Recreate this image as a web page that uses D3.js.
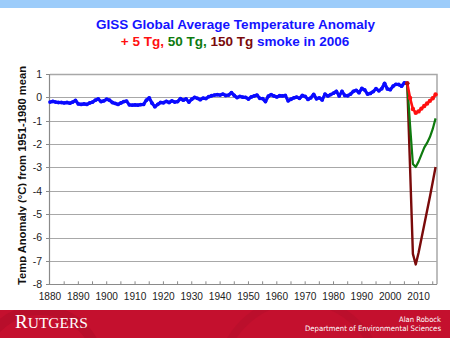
<!DOCTYPE html>
<html>
<head>
<meta charset="utf-8">
<script src="https://cdn.jsdelivr.net/npm/d3@7"></script>
<style>
  html, body { margin: 0; padding: 0; background: #fff; }
  svg { display: block; font-family: Arial, "Liberation Sans", sans-serif; }
</style>
</head>
<body>
<div id="chart"></div>
<script>
// GISS annual anomaly (deg C), 1880-2006
const giss = [
  -0.20, -0.17, -0.20, -0.22, -0.22, -0.24, -0.22, -0.25, -0.20, -0.13,
  -0.28, -0.30, -0.28, -0.30, -0.24, -0.20, -0.12, -0.07, -0.18, -0.15,
  -0.08, -0.12, -0.22, -0.26, -0.30, -0.24, -0.18, -0.16, -0.32, -0.33,
  -0.32, -0.33, -0.31, -0.30, -0.12, -0.02, -0.25, -0.40, -0.30, -0.22,
  -0.23, -0.17, -0.22, -0.15, -0.20, -0.18, -0.05, -0.12, -0.07, -0.20,
  -0.08, 0.00, -0.04, -0.10, -0.03, -0.05, 0.03, 0.07, 0.10, 0.12,
  0.10, 0.14, 0.08, 0.10, 0.20, 0.08, -0.01, 0.04, 0.01, 0.00,
  -0.07, 0.02, 0.06, 0.10, -0.04, -0.05, -0.18, 0.05, 0.12, 0.06,
  0.02, 0.07, 0.06, 0.08, -0.15, -0.08, -0.02, 0.01, -0.04, 0.08,
  0.04, -0.09, -0.02, 0.13, -0.06, -0.02, -0.11, 0.14, 0.06, 0.12,
  0.18, 0.26, 0.06, 0.26, 0.08, 0.07, 0.14, 0.26, 0.30, 0.20,
  0.38, 0.32, 0.14, 0.17, 0.25, 0.37, 0.28, 0.37, 0.60, 0.36,
  0.33, 0.48, 0.56, 0.55, 0.48, 0.62, 0.60
];
const gissStart = 1880;

// smoke scenarios, 2006-2016
const smokeYears = [2006, 2007, 2008, 2009, 2010, 2011, 2012, 2013, 2014, 2015, 2016];
const smoke5 = [0.60, -0.03, -0.50, -0.66, -0.60, -0.48, -0.37, -0.26, -0.15, -0.04, 0.12];
const smoke50 = [0.60, -1.20, -2.85, -2.98, -2.75, -2.45, -2.15, -1.95, -1.70, -1.35, -0.90];
const smoke150 = [0.60, -3.00, -6.70, -7.15, -6.65, -6.05, -5.45, -4.85, -4.25, -3.62, -2.98];

const yTicks = [-8, -7, -6, -5, -4, -3, -2, -1, 0, 1];
const xTickLabels = [1880, 1890, 1900, 1910, 1920, 1930, 1940, 1950, 1960, 1970, 1980, 1990, 2000, 2010];

const W = 450, H = 338;
const svg = d3.select("#chart").append("svg")
  .attr("width", W).attr("height", H);
const defs = svg.append("defs");

// slide decoration
svg.append("rect").attr("x", 0).attr("y", 0).attr("width", W).attr("height", 8)
  .attr("fill", "#9cccfa");

const x = d3.scaleLinear().domain([1880, 2016.5]).range([50, 437]);
const y = d3.scaleLinear().domain([-8, 1]).range([284.3, 74]);

// gridlines
svg.append("g").selectAll("line")
  .data(yTicks.filter((d) => d > -8 && d < 1))
  .join("line")
  .attr("x1", x(1880)).attr("x2", x(2016.5))
  .attr("y1", (d) => Math.round(y(d)) + 0.5).attr("y2", (d) => Math.round(y(d)) + 0.5)
  .attr("stroke", "#a8a8a8").attr("stroke-width", 1.2);

// plot frame (top, right)
svg.append("path")
  .attr("d", `M${x(1880)},${Math.round(y(1)) + 0.5}H${x(2016.5)}V${y(-8)}`)
  .attr("fill", "none").attr("stroke", "#a8a8a8").attr("stroke-width", 1.5);

// y axis
const yAxis = svg.append("g");
yAxis.append("line")
  .attr("x1", 49.5).attr("x2", 49.5).attr("y1", y(1)).attr("y2", y(-8))
  .attr("stroke", "#8a8a8a").attr("stroke-width", 1.2);
yAxis.selectAll("line.tick").data(yTicks).join("line").attr("class", "tick")
  .attr("x1", 46).attr("x2", 50)
  .attr("y1", (d) => Math.round(y(d)) + 0.5).attr("y2", (d) => Math.round(y(d)) + 0.5)
  .attr("stroke", "#8a8a8a");
yAxis.selectAll("text").data(yTicks).join("text")
  .attr("x", 42).attr("y", (d) => y(d) + 3.8)
  .attr("text-anchor", "end")
  .attr("font-size", 10.5).attr("fill", "#222")
  .text((d) => d);

// x axis
const xAxis = svg.append("g");
xAxis.append("line")
  .attr("x1", x(1880)).attr("x2", x(2016.5))
  .attr("y1", Math.round(y(-8)) + 0.5).attr("y2", Math.round(y(-8)) + 0.5)
  .attr("stroke", "#8a8a8a").attr("stroke-width", 1.2);
xAxis.selectAll("line.tick").data(d3.range(1885, 2016, 5)).join("line").attr("class", "tick")
  .attr("x1", (d) => x(d)).attr("x2", (d) => x(d))
  .attr("y1", y(-8) - 3).attr("y2", y(-8))
  .attr("stroke", "#8a8a8a");
xAxis.selectAll("text").data(xTickLabels).join("text")
  .attr("x", (d) => x(d)).attr("y", 300)
  .attr("text-anchor", "middle")
  .attr("font-size", 11.5).attr("fill", "#222")
  .attr("textLength", 22.5).attr("lengthAdjust", "spacingAndGlyphs")
  .text((d) => d);

// y axis title, descenders clipped as in the slide
defs.append("clipPath").attr("id", "ytclip")
  .append("rect").attr("x", 0).attr("y", 60).attr("width", 26.5).attr("height", 240);
svg.append("g").attr("clip-path", "url(#ytclip)")
  .append("text")
  .attr("transform", "translate(26,175.5) rotate(-90)")
  .attr("text-anchor", "middle")
  .attr("font-size", 11).attr("font-weight", "bold").attr("fill", "#111")
  .attr("textLength", 219).attr("lengthAdjust", "spacingAndGlyphs")
  .text("Temp Anomaly (°C) from 1951-1980 mean");

// title
svg.append("text")
  .attr("x", 235.5).attr("y", 29)
  .attr("text-anchor", "middle")
  .attr("font-size", 13.5).attr("font-weight", "bold").attr("fill", "#1414ff")
  .text("GISS Global Average Temperature Anomaly");
const sub = svg.append("text")
  .attr("x", 235).attr("y", 46)
  .attr("text-anchor", "middle")
  .attr("font-size", 13.5).attr("font-weight", "bold");
sub.append("tspan").attr("fill", "#ff1010").text("+ 5 Tg,");
sub.append("tspan").attr("fill", "#0e7a0e").text(" 50 Tg,");
sub.append("tspan").attr("fill", "#7a0a0a").text(" 150 Tg");
sub.append("tspan").attr("fill", "#1414ff").text(" smoke in 2006");

// series
const line = d3.line().x((d) => x(d[0])).y((d) => y(d[1]));
const gissPts = giss.map((v, i) => [gissStart + i, v]);
const zip = (vals) => vals.map((v, i) => [smokeYears[i], v]);

svg.append("path").datum(gissPts).attr("d", line)
  .attr("fill", "none").attr("stroke", "#0a0aff").attr("stroke-width", 3.2)
  .attr("stroke-linejoin", "round");
svg.append("g").selectAll("circle").data(gissPts).join("circle")
  .attr("cx", (d) => x(d[0])).attr("cy", (d) => y(d[1])).attr("r", 1.9)
  .attr("fill", "#0a0aff");

svg.append("path").datum(zip(smoke150)).attr("d", line)
  .attr("fill", "none").attr("stroke", "#7a0a0a").attr("stroke-width", 2.4)
  .attr("stroke-linejoin", "round");
svg.append("path").datum(zip(smoke50)).attr("d", line)
  .attr("fill", "none").attr("stroke", "#0e7a0e").attr("stroke-width", 2.2)
  .attr("stroke-linejoin", "round");
svg.append("path").datum(zip(smoke5)).attr("d", line)
  .attr("fill", "none").attr("stroke", "#ff1010").attr("stroke-width", 2.6)
  .attr("stroke-linejoin", "round");
svg.append("g").selectAll("circle").data(zip(smoke5)).join("circle")
  .attr("cx", (d) => x(d[0])).attr("cy", (d) => y(d[1])).attr("r", 2.2)
  .attr("fill", "#ff1010");
svg.append("circle").attr("cx", x(2006)).attr("cy", y(smoke150[0])).attr("r", 2.2)
  .attr("fill", "#b01010");

// footer band with faint seal arcs
defs.append("clipPath").attr("id", "footclip")
  .append("rect").attr("x", 0).attr("y", 310).attr("width", W).attr("height", 28);
const foot = svg.append("g").attr("clip-path", "url(#footclip)");
foot.append("rect").attr("x", 0).attr("y", 310).attr("width", W).attr("height", 28)
  .attr("fill", "#c4102e");
foot.append("circle").attr("cx", 40).attr("cy", 370).attr("r", 60)
  .attr("fill", "none").attr("stroke", "#b80e2b").attr("stroke-width", 10);
foot.append("circle").attr("cx", 300).attr("cy", 380).attr("r", 80)
  .attr("fill", "none").attr("stroke", "#bb0f2c").attr("stroke-width", 8);

const rut = svg.append("text")
  .attr("x", 15).attr("y", 327.7)
  .attr("font-family", "'Liberation Serif', 'DejaVu Serif', serif")
  .attr("fill", "#fff");
rut.append("tspan").attr("font-size", 19).text("R");
rut.append("tspan").attr("font-size", 15.5).text("UTGERS");

svg.append("text")
  .attr("x", 441).attr("y", 321.7).attr("text-anchor", "end")
  .attr("font-family", "'DejaVu Sans', sans-serif").attr("font-size", 7.5)
  .attr("fill", "#fff")
  .attr("textLength", 42).attr("lengthAdjust", "spacingAndGlyphs")
  .text("Alan Robock");
svg.append("text")
  .attr("x", 441).attr("y", 330.7).attr("text-anchor", "end")
  .attr("font-family", "'DejaVu Sans', sans-serif").attr("font-size", 7.5)
  .attr("fill", "#fff")
  .attr("textLength", 136).attr("lengthAdjust", "spacingAndGlyphs")
  .text("Department of Environmental Sciences");
</script>
</body>
</html>
